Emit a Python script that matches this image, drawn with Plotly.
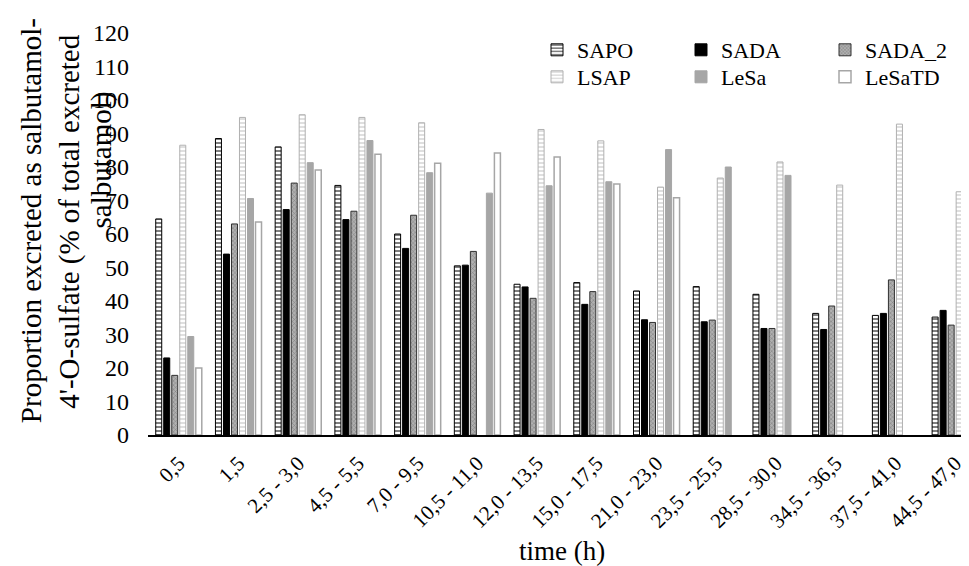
import plotly.graph_objects as go

categories = ["0,5", "1,5", "2,5 - 3,0", "4,5 - 5,5", "7,0 - 9,5", "10,5 - 11,0",
              "12,0 - 13,5", "15,0 - 17,5", "21,0 - 23,0", "23,5 - 25,5",
              "28,5 - 30,0", "34,5 - 36,5", "37,5 - 41,0", "44,5 - 47,0"]
SAPO = [64.5, 88.5, 86, 74.5, 60, 50.5, 45, 45.5, 43, 44.3, 42, 36.3, 35.7, 35.2]
SADA = [23, 54, 67.3, 64.3, 55.7, 50.7, 44.2, 39, 34.4, 33.8, 31.8, 31.5, 36.3, 37.2]
SADA_2 = [17.8, 63, 75.2, 66.8, 65.6, 54.8, 40.8, 42.8, 33.6, 34.3, 31.8, 38.5, 46.3, 32.8]
LSAP = [86.5, 94.8, 95.6, 94.8, 93.2, None, 91.2, 87.8, 74, 76.7, 81.5, 74.6, 92.8, 72.6]
LeSa = [29.4, 70.6, 81.3, 87.9, 78.3, 72.2, 74.4, 75.6, 85.2, 80, 77.5, None, None, None]
LeSaTD = [20, 63.6, 79.1, 83.8, 81.1, 84.2, 83, 74.9, 70.8, None, None, None, None, None]

FONT = "Liberation Serif"
W, H = 969, 566
ML, MR, MT, MB = 148, 0, 33, 131
PW, PH = W - ML - MR, H - MT - MB

fig = go.Figure()
fig.add_trace(go.Bar(name="SAPO", x=categories, y=SAPO, legend="legend",
                     marker=dict(color="white", line=dict(color="black", width=1),
                                 pattern=dict(shape="-", fgcolor="black", bgcolor="white",
                                              size=4, solidity=0.5))))
fig.add_trace(go.Bar(name="SADA", x=categories, y=SADA, legend="legend",
                     marker=dict(color="black", line=dict(color="black", width=1))))
fig.add_trace(go.Bar(name="SADA_2", x=categories, y=SADA_2, legend="legend",
                     marker=dict(color="#9a9a9a", line=dict(color="#303030", width=1),
                                 pattern=dict(shape="x", fgcolor="#404040", bgcolor="#b0b0b0",
                                              size=3, solidity=0.3))))
fig.add_trace(go.Bar(name="LSAP", x=categories, y=LSAP, legend="legend2",
                     marker=dict(color="white", line=dict(color="#b0b0b0", width=1),
                                 pattern=dict(shape="-", fgcolor="#b8b8b8", bgcolor="white",
                                              size=4, solidity=0.45))))
fig.add_trace(go.Bar(name="LeSa", x=categories, y=LeSa, legend="legend2",
                     marker=dict(color="#a6a6a6", line=dict(color="#a6a6a6", width=1))))
fig.add_trace(go.Bar(name="LeSaTD", x=categories, y=LeSaTD, legend="legend2",
                     marker=dict(color="white", line=dict(color="#a6a6a6", width=1.5))))

def px2x(px):
    return (px - ML) / PW

def py2y(py):
    return (H - MB - py) / PH

leg_common = dict(orientation="h", xanchor="left", yanchor="top",
                  bgcolor="rgba(0,0,0,0)", entrywidth=99, entrywidthmode="pixels",
                  font=dict(family=FONT, size=22, color="black"), itemwidth=30,
                  tracegroupgap=0)

fig.update_layout(
    width=W, height=H,
    margin=dict(l=ML, r=MR, t=MT, b=MB),
    paper_bgcolor="white", plot_bgcolor="white",
    barmode="group", bargap=0.195, bargroupgap=0.25,
    font=dict(family=FONT, size=20, color="black"),
    legend=dict(x=px2x(541), y=py2y(29), **leg_common),
    legend2=dict(x=px2x(541), y=py2y(56), **leg_common),
    xaxis=dict(type="category", range=[-0.515, 13.098], tickangle=-45,
               tickfont=dict(family=FONT, size=21, color="black"),
               showline=True, linecolor="black", linewidth=1.5,
               ticks="", showgrid=False, ticklabelstandoff=6),
    yaxis=dict(range=[0, 120], dtick=10, showgrid=False, showline=False, zeroline=False,
               tickfont=dict(family=FONT, size=24, color="black"), ticks="",
               ticklabelstandoff=18),
)

ylines = [("Proportion excreted as salbutamol-", 30, 221),
          ("4'-O-sulfate (% of total excreted", 68, 222),
          ("salbutamol)", 101, 160)]
for txt, cx, cy in ylines:
    fig.add_annotation(text=txt, xref="paper", yref="paper", x=px2x(cx), y=py2y(cy),
                       xanchor="center", yanchor="middle", textangle=-90, showarrow=False,
                       font=dict(family=FONT, size=29, color="black"))

fig.add_annotation(text="time (h)", xref="paper", yref="paper", x=px2x(566), y=py2y(551),
                   xanchor="center", yanchor="middle", showarrow=False,
                   font=dict(family=FONT, size=27, color="black"))

fig.write_html("out.html")
